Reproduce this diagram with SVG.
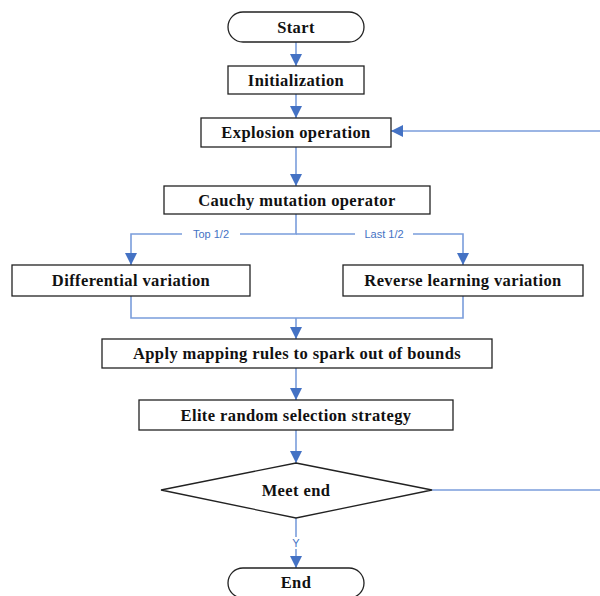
<svg xmlns="http://www.w3.org/2000/svg" width="600" height="596" viewBox="0 0 600 596">
<defs>
<marker id="ah" viewBox="0 0 10 10" refX="10" refY="5" markerWidth="12" markerHeight="12" markerUnits="userSpaceOnUse" orient="auto">
<path d="M0,0 L10,5 L0,10 z" fill="#4472C4"/>
</marker>
<style>
.box{fill:#fff;stroke:#222;stroke-width:1.3}
.t{font-family:"Liberation Serif","Times New Roman",serif;font-weight:bold;font-size:16.5px;letter-spacing:0.4px;fill:#111;text-anchor:middle;dominant-baseline:central}
.c{fill:none;stroke:#7a9ddb;stroke-width:1.6}
.l{font-family:"Liberation Sans",Arial,sans-serif;font-size:11px;fill:#4472C4;text-anchor:middle;dominant-baseline:central}
</style>
</defs>
<rect width="600" height="596" fill="#fff"/>
<g id="connectors">
<line class="c" x1="296" y1="42" x2="296" y2="66" marker-end="url(#ah)"/>
<line class="c" x1="296" y1="94" x2="296" y2="118" marker-end="url(#ah)"/>
<line class="c" x1="600" y1="131" x2="391" y2="131" marker-end="url(#ah)"/>
<line class="c" x1="296" y1="147" x2="296" y2="186" marker-end="url(#ah)"/>
<path class="c" d="M296,214 V234 H131 V265" marker-end="url(#ah)"/>
<path class="c" d="M296,234 H463 V265" marker-end="url(#ah)"/>
<rect x="182" y="228" width="58" height="12" fill="#fff"/>
<text class="l" x="211" y="234">Top 1/2</text>
<rect x="355" y="228" width="58" height="12" fill="#fff"/>
<text class="l" x="384" y="234">Last 1/2</text>
<path class="c" d="M131,296 V318 H463 V296"/>
<line class="c" x1="296" y1="318" x2="296" y2="339" marker-end="url(#ah)"/>
<line class="c" x1="296" y1="368" x2="296" y2="400" marker-end="url(#ah)"/>
<line class="c" x1="296" y1="430" x2="296" y2="463" marker-end="url(#ah)"/>
<line class="c" x1="432" y1="490" x2="600" y2="490"/>
<line class="c" x1="296" y1="518" x2="296" y2="568" marker-end="url(#ah)"/>
<rect x="290" y="537" width="12" height="12" fill="#fff"/>
<text class="l" x="296" y="543">Y</text>
</g>
<g id="start"><rect class="box" x="228" y="12" width="136" height="30" rx="15"/><text class="t" x="296" y="27">Start</text></g>
<g id="init"><rect class="box" x="228" y="66" width="136" height="28"/><text class="t" x="296" y="80">Initialization</text></g>
<g id="explosion"><rect class="box" x="201" y="118" width="190" height="29"/><text class="t" x="296" y="132.5">Explosion operation</text></g>
<g id="cauchy"><rect class="box" x="164" y="186" width="266" height="28"/><text class="t" x="297" y="200">Cauchy mutation operator</text></g>
<g id="diff"><rect class="box" x="12" y="265" width="238" height="31"/><text class="t" x="131" y="280.5">Differential variation</text></g>
<g id="reverse"><rect class="box" x="343" y="265" width="240" height="31"/><text class="t" x="463" y="280.5">Reverse learning variation</text></g>
<g id="apply"><rect class="box" x="102" y="339" width="390" height="29"/><text class="t" x="297" y="353.5">Apply mapping rules to spark out of bounds</text></g>
<g id="elite"><rect class="box" x="139" y="400" width="314" height="30"/><text class="t" x="296" y="415">Elite random selection strategy</text></g>
<g id="meet"><polygon class="box" points="296,463 432,490 296,518 161,490"/><text class="t" x="296" y="490">Meet end</text></g>
<g id="end"><rect class="box" x="228" y="568" width="136" height="30" rx="15"/><text class="t" x="296" y="582">End</text></g>
</svg>
